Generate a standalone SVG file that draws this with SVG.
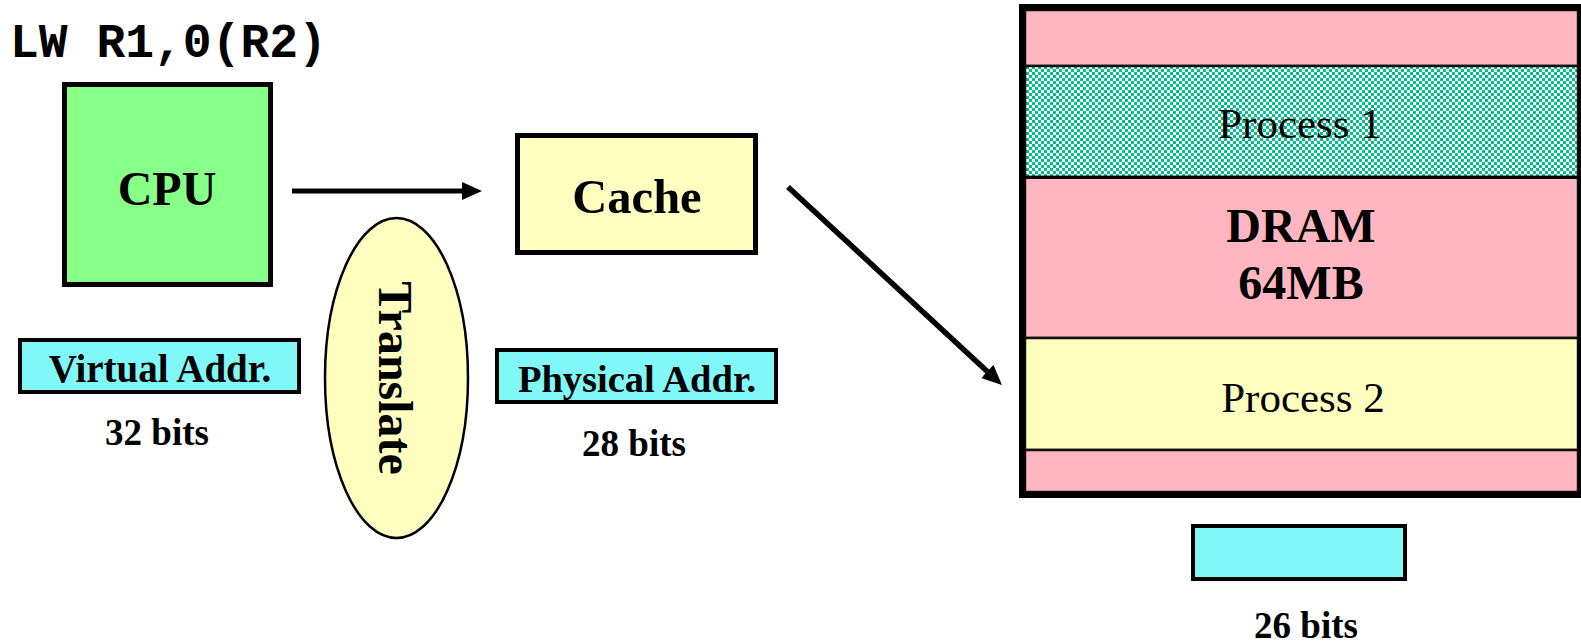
<svg xmlns="http://www.w3.org/2000/svg" width="1581" height="643" viewBox="0 0 1581 643">
  <style>
    .lbl { font-family: "Liberation Serif", "Times New Roman", serif; font-weight: bold; fill: #000; text-anchor: middle; }
    .reg { font-family: "Liberation Serif", "Times New Roman", serif; font-weight: normal; fill: #000; text-anchor: middle; }
    .code { font-family: "Liberation Mono", "Courier New", monospace; font-weight: bold; fill: #000; }
    .box { stroke: #000; }
    .addr { fill: #80f8f8; stroke: #000; stroke-width: 4; }
    .band { stroke: #111; stroke-width: 2.5; }
    .wire { stroke: #000; fill: none; }
  </style>
  <defs>
    <pattern id="checker" width="6" height="6" patternUnits="userSpaceOnUse">
      <rect width="6" height="6" fill="#ffffff"/>
      <rect width="3" height="3" fill="#00c08c"/>
      <rect x="3" y="3" width="3" height="3" fill="#00c08c"/>
    </pattern>
    <marker id="head" markerUnits="userSpaceOnUse" markerWidth="20" markerHeight="20" viewBox="0 0 20 20" refX="0" refY="10" orient="auto">
      <path d="M0,1 L20,10 L0,19 z" fill="#000"/>
    </marker>
  </defs>

  <!-- instruction being executed -->
  <text class="code" x="10" y="57" font-size="48">LW R1,0(R2)</text>

  <g id="cpu">
    <rect class="box" x="64.5" y="84.5" width="206" height="200" fill="#88ff88" stroke-width="5"/>
    <text class="lbl" x="167" y="205" font-size="48">CPU</text>
  </g>

  <g id="cache">
    <rect class="box" x="517.5" y="135.5" width="238" height="117" fill="#ffffc0" stroke-width="5"/>
    <text class="lbl" x="637" y="213" font-size="48.5">Cache</text>
  </g>

  <g id="translate">
    <ellipse cx="396.5" cy="378" rx="71.5" ry="160" fill="#ffffc0" stroke="#000" stroke-width="2.5"/>
    <text class="lbl" font-size="48" transform="translate(379,378) rotate(90)">Translate</text>
  </g>

  <g id="virtual-addr">
    <rect class="addr" x="20" y="340" width="279" height="52"/>
    <text class="lbl" x="160" y="382" font-size="39">Virtual Addr.</text>
    <text class="lbl" x="157" y="445" font-size="37">32 bits</text>
  </g>

  <g id="physical-addr">
    <rect class="addr" x="497" y="350" width="279" height="52"/>
    <text class="lbl" x="637" y="392" font-size="38.5">Physical Addr.</text>
    <text class="lbl" x="634" y="456" font-size="37">28 bits</text>
  </g>

  <g id="dram">
    <!-- memory bands, top to bottom -->
    <rect class="band" x="1025" y="10" width="553" height="56" fill="#ffb6c1"/>
    <rect class="band" x="1025" y="66" width="553" height="111" fill="url(#checker)"/>
    <rect class="band" x="1025" y="177" width="553" height="161" fill="#ffb6c1"/>
    <rect class="band" x="1025" y="338" width="553" height="112" fill="#ffffc0"/>
    <rect class="band" x="1025" y="450" width="553" height="42" fill="#ffb6c1"/>
    <line x1="1025" y1="177.5" x2="1578" y2="177.5" stroke="#000" stroke-width="3"/>
    <!-- outer frame -->
    <rect x="1022" y="7" width="559" height="488" fill="none" stroke="#000" stroke-width="6"/>
    <text class="reg" x="1300" y="138" font-size="43">Process 1</text>
    <text class="lbl" x="1301" y="242" font-size="48">DRAM</text>
    <text class="lbl" x="1301" y="299" font-size="48">64MB</text>
    <text class="reg" x="1303" y="412" font-size="43">Process 2</text>
  </g>

  <g id="dram-addr">
    <rect class="addr" x="1193" y="526" width="212" height="53"/>
    <text class="lbl" x="1306" y="638" font-size="37">26 bits</text>
  </g>

  <g id="connectors">
    <line class="wire" x1="292" y1="191" x2="462" y2="191" stroke-width="5" marker-end="url(#head)"/>
    <line class="wire" x1="788" y1="187" x2="987.3" y2="371.4" stroke-width="5.5" marker-end="url(#head)"/>
  </g>
</svg>
